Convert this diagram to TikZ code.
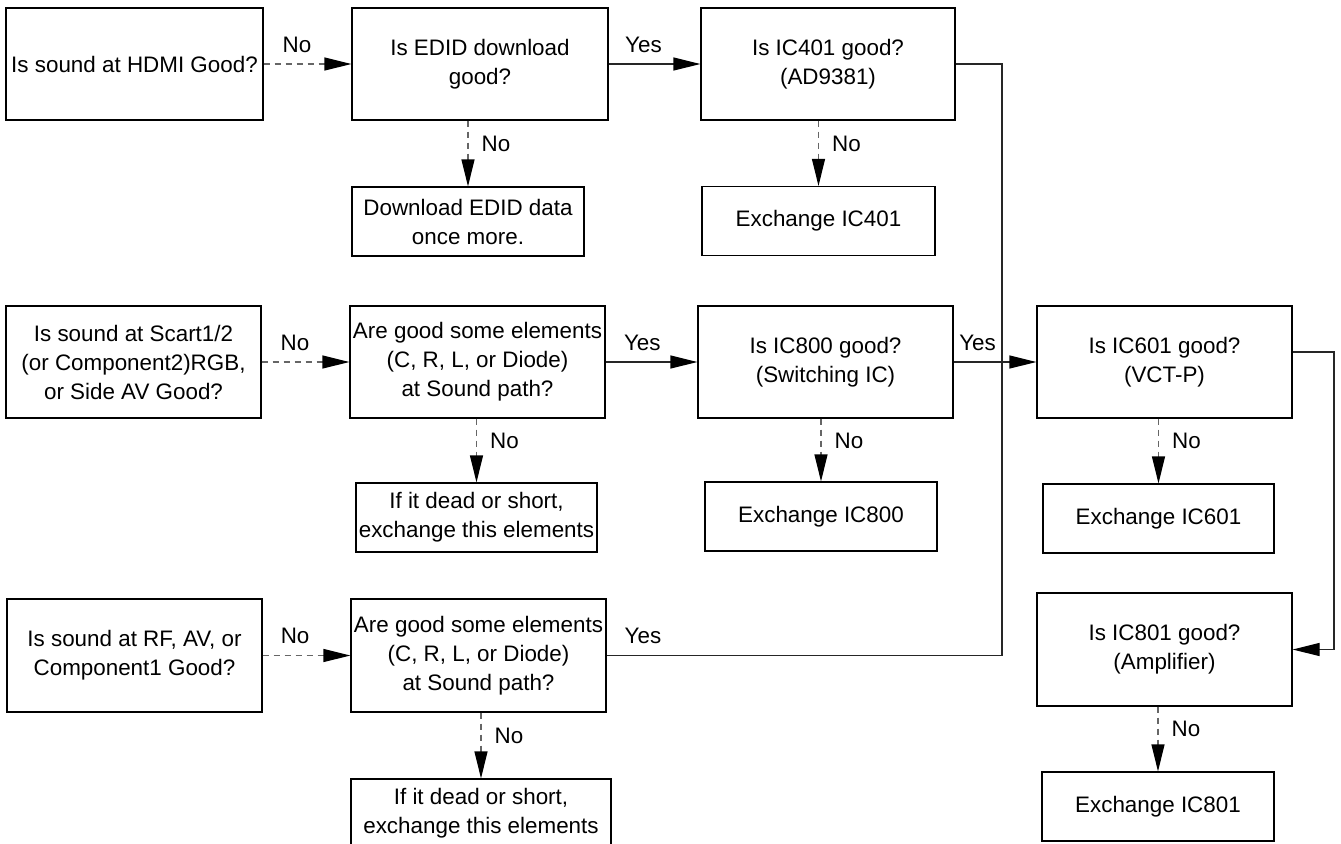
\documentclass[tikz,border=0pt]{standalone}
\usepackage{fontspec}
\setmainfont{Liberation Sans}
\usetikzlibrary{arrows.meta,positioning,calc}

\begin{document}
\begin{tikzpicture}[x=0.5pt,y=-0.5pt,
    box/.style={draw,line width=0.6pt,align=center,inner sep=1pt,
      minimum height=56pt,font=\fontsize{11.2}{14.5}\selectfont},
    small/.style={box,minimum height=34.5pt},
    nolink/.style={draw=black!60,line width=0.6pt,dash pattern=on 3pt off 2.5pt,
      -{Triangle[length=13.5pt,width=6.5pt,color=black,fill=black]}},
    yeslink/.style={draw=black!85,line width=0.6pt,
      -{Triangle[length=13.5pt,width=6.5pt,color=black,fill=black]}},
    wire/.style={draw=black!85,line width=0.6pt},
    lbl/.style={font=\fontsize{11.2}{14}\selectfont,inner sep=1pt}]
  \useasboundingbox (0,0) rectangle (1341,843);

  % HDMI row
  \node[box,minimum width=128.5pt] (hdmi) at (134.5,64) {Is sound at HDMI Good?};
  \node[box,minimum width=128pt] (edid) at (480,64) {Is EDID download\\good?};
  \node[box,minimum width=127pt] (ic401) at (828,64) {Is IC401 good?\\(AD9381)};
  \node[small,minimum width=116pt] (dledid) at (468,221.5) {Download EDID data\\once more.};
  \node[small,minimum width=116.5pt] (ex401) at (818.5,221) {Exchange IC401};

  % Scart row
  \node[box,minimum width=127.5pt] (scart) at (133.5,362) {Is sound at Scart1/2\\(or Component2)RGB,\\or Side AV Good?};
  \node[box,minimum width=127.5pt] (path1) at (477.5,362) {Are good some elements\\(C, R, L, or Diode)\\at Sound path?};
  \node[box,minimum width=127.5pt] (ic800) at (825.5,362) {Is IC800 good?\\(Switching IC)};
  \node[box,minimum width=127.5pt] (ic601) at (1164.5,362) {Is IC601 good?\\(VCT-P)};
  \node[small,minimum width=120.5pt] (dead1) at (476.5,517.5) {If it dead or short,\\exchange this elements};
  \node[small,minimum width=116pt] (ex800) at (821,516.5) {Exchange IC800};
  \node[small,minimum width=115.5pt] (ex601) at (1158.5,518.5) {Exchange IC601};

  % RF row
  \node[box,minimum width=127.5pt,minimum height=56.5pt] (rf) at (134.5,655.5) {Is sound at RF, AV, or\\Component1 Good?};
  \node[box,minimum width=127.5pt,minimum height=56.5pt] (path2) at (478.5,655.5) {Are good some elements\\(C, R, L, or Diode)\\at Sound path?};
  \node[small,minimum width=130pt] (dead2) at (481,813.5) {If it dead or short,\\exchange this elements};
  \node[box,minimum width=127.5pt,minimum height=56.5pt] (ic801) at (1164.5,649.5) {Is IC801 good?\\(Amplifier)};
  \node[small,minimum width=116pt] (ex801) at (1158,806.5) {Exchange IC801};

  \coordinate (merge) at (1002,363);
  \coordinate (loop) at (1334,352);

  % connectors
  \draw[nolink] (hdmi) -- node[lbl,above=4.5pt,pos=0.38] {No} (edid);
  \draw[yeslink] (edid) -- node[lbl,above=4.5pt,pos=0.38] {Yes} (ic401);
  \draw[nolink] (edid.south -| dledid.north) -- node[lbl,right=5.5pt,pos=0.35] {No} (dledid.north);
  \draw[nolink] (ic401.south -| ex401.north) -- node[lbl,right=5.5pt,pos=0.35] {No} (ex401.north);
  \draw[wire] (ic401.east) -| (merge);

  \draw[nolink] (scart) -- node[lbl,above=4.5pt,pos=0.38] {No} (path1);
  \draw[yeslink] (path1) -- node[lbl,above=4.5pt,pos=0.4] {Yes} (ic800);
  \draw[yeslink] (ic800) -- node[lbl,above=4.5pt,pos=0.29] {Yes} (ic601);
  \draw[nolink] (path1.south -| dead1.north) -- node[lbl,right=5.5pt,pos=0.35] {No} (dead1.north);
  \draw[nolink] (ic800.south -| ex800.north) -- node[lbl,right=5.5pt,pos=0.35] {No} (ex800.north);
  \draw[nolink] (ic601.south -| ex601.north) -- node[lbl,right=5.5pt,pos=0.35] {No} (ex601.north);
  \draw[yeslink] (ic601.east |- loop) -- (loop) |- (ic801.east);

  \draw[nolink] (rf) -- node[lbl,above=4.5pt,pos=0.37] {No} (path2);
  \draw[wire] (path2.east) -| node[lbl,above=4.5pt,pos=0.046] {Yes} (merge);
  \draw[nolink] (path2.south -| dead2.north) -- node[lbl,right=5.5pt,pos=0.35] {No} (dead2.north);
  \draw[nolink] (ic801.south -| ex801.north) -- node[lbl,right=5.5pt,pos=0.35] {No} (ex801.north);
\end{tikzpicture}
\end{document}
